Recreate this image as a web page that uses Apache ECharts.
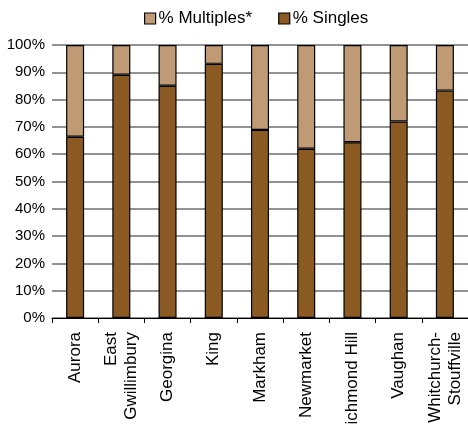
<!DOCTYPE html>
<html><head><meta charset="utf-8">
<script src="https://cdn.jsdelivr.net/npm/echarts@6/dist/echarts.min.js"></script>
<style>html,body{margin:0;padding:0;background:#fff;overflow:hidden}#c{width:468px;height:425px}</style>
</head><body><div id="c"></div>
<script>
var categories = ['Aurora','East\nGwillimbury','Georgina','King','Markham','Newmarket','Richmond Hill','Vaughan','Whitchurch-\nStouffville'];
var singles = [66.4, 89.1, 85.1, 93.1, 68.9, 62.0, 64.4, 72.0, 83.3];
var multiples = singles.map(function(v){return +(100 - v).toFixed(1);});

var FONT = '"Liberation Sans", Arial, sans-serif';
var chart = echarts.init(document.getElementById('c'), null, {renderer:'canvas', width:468, height:425});
chart.setOption({
  animation:false,
  textStyle:{fontFamily:FONT},
  legend:{
    top:5, left:139, itemWidth:11, itemHeight:11, itemGap:26,
    icon:'rect',
    itemStyle:{borderColor:'#000', borderWidth:1.2},
    data:['% Multiples*','% Singles'],
    textStyle:{fontFamily:FONT, fontSize:17, color:'#000', padding:[0,0,0,-2]}
  },
  grid:{left:52, width:416, top:45, height:273, containLabel:false, outerBoundsMode:'none'},
  xAxis:{
    type:'category', data:categories,
    axisLine:{lineStyle:{color:'#000', width:1}},
    axisTick:{show:true, length:5, lineStyle:{color:'#000'}},
    axisLabel:{rotate:90, interval:0, margin:14, fontFamily:FONT, fontSize:17, color:'#000', lineHeight:20}
  },
  yAxis:{
    type:'value', min:0, max:100, interval:10,
    axisLine:{show:false}, axisTick:{show:false},
    axisLabel:{formatter:function(v){return v+'%';}, margin:7, fontFamily:FONT, fontSize:15, color:'#000'},
    splitLine:{lineStyle:{color:'#6e6e6e', width:1.5}}
  },
  series:[
    {name:'% Singles', type:'bar', stack:'s', data:singles, barWidth:'39%',
     itemStyle:{color:'#8b5a22', borderColor:'#000', borderWidth:1.2}},
    {name:'% Multiples*', type:'bar', stack:'s', data:multiples, barWidth:'39%',
     itemStyle:{color:'#bf9a74', borderColor:'#000', borderWidth:1.2}}
  ]
});
</script></body></html>
